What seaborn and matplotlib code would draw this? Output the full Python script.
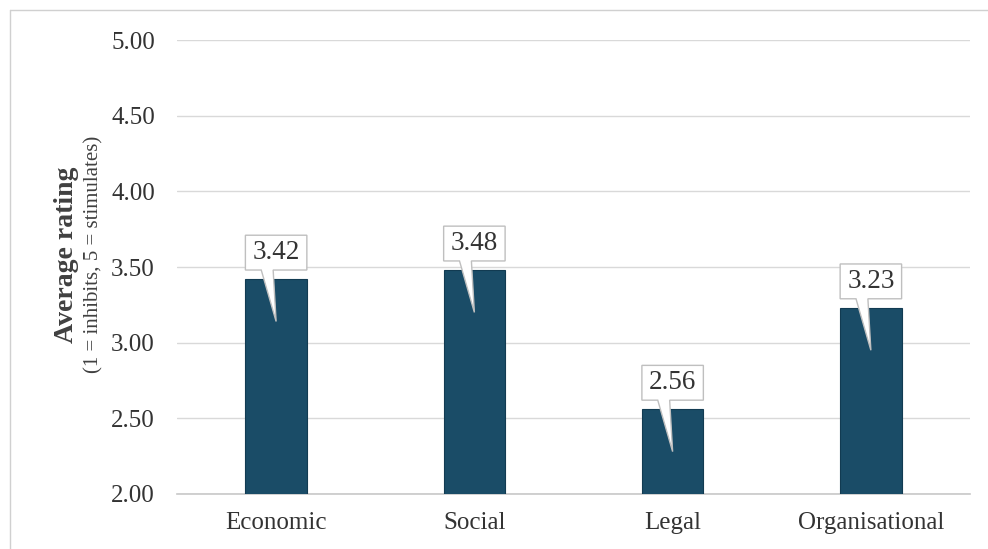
import matplotlib
matplotlib.use("Agg")
import matplotlib.pyplot as plt
import seaborn as sns
import pandas as pd
from matplotlib.patches import Polygon
from matplotlib.lines import Line2D

categories = ["Economic", "Social", "Legal", "Organisational"]
values = [3.42, 3.48, 2.56, 3.23]
yticks = [2.00, 2.50, 3.00, 3.50, 4.00, 4.50, 5.00]

sns.set_theme(style="white")
plt.rcParams['font.family'] = ['Liberation Serif', 'DejaVu Serif']

df = pd.DataFrame({"category": categories, "value": values})

fig = plt.figure(figsize=(9.88, 5.49), dpi=100)
ax = fig.add_axes([177/988, 1-494/549, (970-177)/988, (494-40)/549])

sns.barplot(data=df, x="category", y="value", color="#1a4c67", saturation=1,
            width=0.31, edgecolor="#123b52", linewidth=0.8, ax=ax, zorder=3)

ax.set_ylim(2.0, 5.0)
ax.set_xlim(-0.5, 3.5)
ax.set_yticks(yticks)
ax.set_yticklabels([f"{t:.2f}" for t in yticks], fontsize=18, color="#333333")
ax.tick_params(axis='y', length=0, pad=16)
ax.tick_params(axis='x', length=0, pad=13, labelsize=18, labelcolor="#333333")
ax.set_xlabel("")
ax.set_ylabel("")
ax.yaxis.grid(True, color="#d9d9d9", linewidth=1.0, zorder=0)
ax.set_axisbelow(True)
for s in ["top", "right", "left"]:
    ax.spines[s].set_visible(False)
ax.spines["bottom"].set_color("#c8c8c8")
ax.spines["bottom"].set_linewidth(1.2)

# Callout labels
for patch, v in zip(ax.patches, values):
    cx = patch.get_x() + patch.get_width() / 2
    hw = 0.155
    b = v + 0.06
    t = b + 0.23
    tip = v - 0.28
    pts = [(cx - hw, b), (cx - hw, t), (cx + hw, t), (cx + hw, b),
           (cx - 0.015, b), (cx, tip), (cx - 0.075, b)]
    poly = Polygon(pts, closed=True, facecolor="white", edgecolor="#bfbfbf",
                   linewidth=1.0, zorder=5, joinstyle="miter")
    ax.add_patch(poly)
    ax.text(cx, (b + t) / 2, f"{v:.2f}", ha="center", va="center",
            fontsize=19.5, color="#333333", zorder=6)

fig.text(66/988, 1-255/549, "Average rating", rotation=90, ha="center",
         va="center", fontsize=20, fontweight="bold", color="#404040")
fig.text(94/988, 1-254/549, "(1 = inhibits, 5 = stimulates)", rotation=90,
         ha="center", va="center", fontsize=15, color="#404040")

# figure border
fig.add_artist(Line2D([10/988, 1.0], [1-10/549, 1-10/549], color="#d0d0d0", lw=1.0))
fig.add_artist(Line2D([10/988, 10/988], [0, 1-10/549], color="#d0d0d0", lw=1.0))

fig.savefig("out.png", dpi=100)
